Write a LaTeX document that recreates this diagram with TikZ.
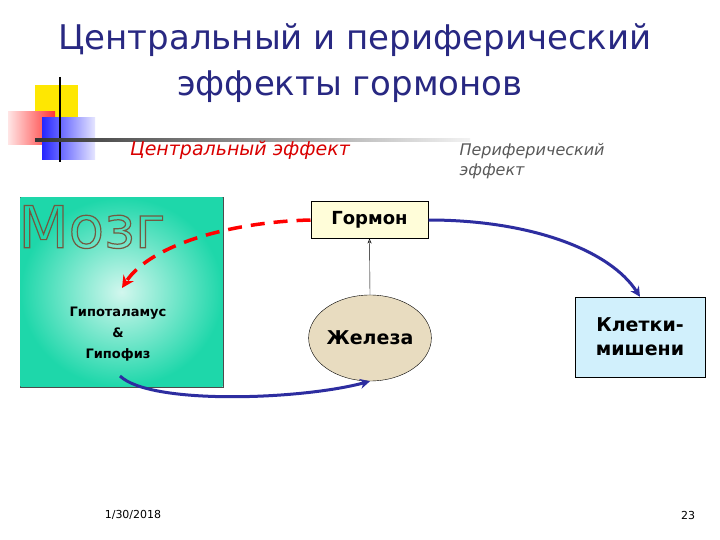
\documentclass[tikz,border=0pt]{standalone}
\usepackage{fontspec}
\setmainfont{DejaVu Sans}
\newfontfamily\verd{DejaVu Sans}
\usetikzlibrary{shapes.geometric,arrows.meta}
\definecolor{ttl}{RGB}{40,40,130}
\definecolor{teal1}{RGB}{30,215,170}
\definecolor{darr}{RGB}{45,45,160}
\begin{document}
\begin{tikzpicture}[x=1pt,y=-1pt,
  lbl/.style={font=\verd\bfseries\fontsize{15}{18}\selectfont,align=center},
  blarrow/.style={draw=darr,line width=3pt,-{Stealth[length=10pt,width=10pt]}}]
\useasboundingbox (0,0) rectangle (720,540);
\fill[white] (0,0) rectangle (720,540);
% title
\node[text=ttl,font=\fontsize{34}{40}\selectfont] (t1) at (355,40) {Центральный и периферический};
\node[text=ttl,font=\fontsize{34}{40}\selectfont] (t2) at (350,87) {эффекты гормонов};
% decoration
\fill[yellow!90!orange] (35,85) rectangle (78,128);
\shade[left color=red!10,right color=red!80] (8,112) rectangle (55,145);
\shade[left color=blue!85,right color=blue!10] (42,118) rectangle (95,160);
\draw[line width=2pt] (60,77) -- (60,162);
\shade[left color=black!80,right color=black!5] (35,138.5) rectangle (470,141.5);
\node[text=red!85!black,font=\itshape\fontsize{19}{22}\selectfont] (ce) at (240,150) {Центральный эффект};
\node[text=black!65,font=\itshape\fontsize{16}{20}\selectfont,align=left,anchor=north west] (pe) at (456,140) {Периферический\\эффект};
% brain box
\node[draw=black!70,inner sep=0pt,minimum width=203pt,minimum height=190pt,anchor=north west] (brain) at (20,197) {};
\shade[inner color=white!80!teal1,outer color=teal1] (20.5,197.5) rectangle (222.5,386.5);
\node[font=\fontsize{58}{60}\selectfont] (mozg) at (92,227) {\special{pdf:literal 1 Tr 1.2 w 0.45 0.35 0.25 RG 0.8 0.75 0.65 rg}Мозг\special{pdf:literal 0 Tr 0 0 0 rg 0 0 0 RG}};
\node[lbl,font=\verd\bfseries\fontsize{13}{21}\selectfont] (hyp) at (118,334) {Гипоталамус\\\&\\Гипофиз};
% hormone
\node[draw,line width=1pt,fill=yellow!15,font=\verd\bfseries\fontsize{18}{20}\selectfont,minimum width=117pt,minimum height=36pt] (horm) at (369.5,220) {Гормон};
\node[draw,ellipse,fill={rgb,255:red,232;green,220;blue,192},font=\verd\bfseries\fontsize{19}{22}\selectfont,minimum width=116pt,minimum height=86pt,inner sep=0pt] (gl) at (370,338) {Железа};
\node[draw,fill=cyan!18,align=center,font=\verd\bfseries\fontsize{19}{24}\selectfont,minimum width=130pt,minimum height=80pt] (cell) at (640,337) {Клетки-\\мишени};
\coordinate (hypb) at (120,376);
\coordinate (hypt) at (122,288);
% connectors
\draw[-{Stealth[length=5pt,width=4pt,open]}] (gl.north) -- (horm.south);
\draw[red,line width=3.5pt,dash pattern=on 14pt off 9pt,-{Stealth[length=12pt,width=12pt]}] (horm.west) .. controls (230,222) and (150,245) .. (hypt);
\draw[blarrow] (hypb) .. controls (150,405) and (300,400) .. (gl.south);
\draw[blarrow] (horm.east) .. controls (530,220) and (610,250) .. (cell.north);
% footer
\node[font=\fontsize{11}{13}\selectfont] (d) at (133,515) {1/30/2018};
\node[font=\fontsize{11}{13}\selectfont] (n) at (688,515) {23};
\end{tikzpicture}
\end{document}
